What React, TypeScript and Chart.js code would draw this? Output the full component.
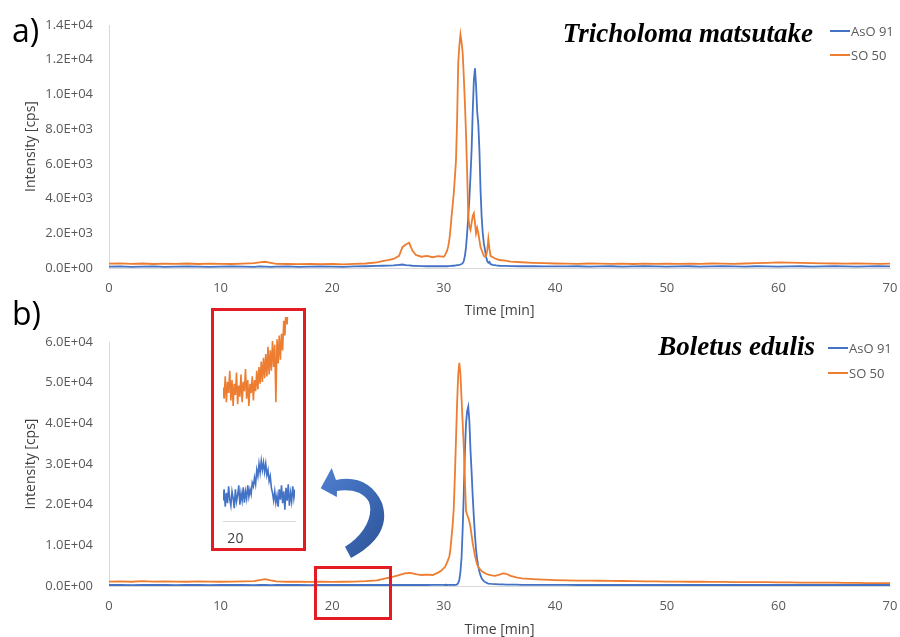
import React, { useEffect, useRef } from "react";
import { Chart, registerables } from "chart.js";

Chart.register(...registerables);

const FONT = "'Open Sans', sans-serif";
const BLUE = "#4472C4";
const ORANGE = "#ED7D31";

const seriesNames = ["AsO 91", "SO 50"];
const xTicks = [0, 10, 20, 30, 40, 50, 60, 70];
const yTicksTop = [0, 2000, 4000, 6000, 8000, 10000, 12000, 14000];
const yTicksBottom = [0, 10000, 20000, 30000, 40000, 50000, 60000];
const insetXTicks = [20];

// ---- a) Tricholoma matsutake ----
const timeTop = [
  0, 1, 2, 3, 4, 5, 6, 7, 8, 9, 10, 11, 12, 13, 13.5, 14, 14.5, 15, 16, 17, 18, 19, 20, 21, 22, 23, 24,
  24.5, 25, 25.5, 26, 26.3, 26.6, 26.9, 27.2, 27.5, 28, 28.5, 29, 29.5,
  30, 30.1, 30.2, 30.3, 30.4, 30.5, 30.6, 30.7, 30.8, 30.9, 31, 31.1, 31.2, 31.3, 31.4, 31.5, 31.6, 31.7, 31.8, 31.9, 32,
  32.1, 32.2, 32.3, 32.4, 32.5, 32.6, 32.7, 32.8, 32.9, 33, 33.1, 33.2, 33.3, 33.4, 33.5, 33.6, 33.7, 33.8, 33.9, 34, 34.1, 34.2,
  34.4, 34.7, 35, 35.5, 36, 37, 38, 39, 40,
  41, 42, 43, 44, 45, 46, 47, 48, 49, 50, 51, 52, 53, 54, 55, 56, 57, 58, 59, 60, 61, 62, 63, 64, 65, 66, 67, 68, 69, 70,
];
const asoTop = [
  80, 90, 70, 80, 90, 70, 80, 90, 80, 70, 80, 90, 80, 70, 90, 80, 70, 80, 90, 70, 80, 90, 80, 70, 90, 100, 120,
  130, 140, 150, 180, 200, 170, 150, 130, 120, 110, 100, 100, 110,
  100, 100, 110, 100, 110, 110, 120, 120, 130, 130, 140, 150, 160, 170, 180, 200, 230, 280, 400, 700, 1200,
  2000, 2950, 4000, 5300, 6800, 9000, 10800, 11500, 10500, 9000, 8300, 6800, 4500, 2950, 2000, 1400, 1040, 650, 400, 300, 350, 220,
  180, 150, 130, 120, 110, 100, 100, 90, 90,
  90, 100, 80, 90, 100, 80, 90, 100, 90, 80, 90, 100, 80, 90, 100, 90, 80, 100, 90, 80, 90, 100, 80, 90, 100, 90, 80, 90, 100, 90,
];
const soTop = [
  250, 270, 240, 260, 230, 250, 240, 260, 230, 250, 240, 230, 250, 280, 330, 360, 300, 240, 230, 220, 240, 220, 230, 210, 240, 260, 320,
  400, 450, 520, 700, 1200, 1350, 1450, 1000, 750, 650, 700, 620, 680,
  650, 720, 850, 1000, 1230, 1600, 2200, 2950, 3600, 4300, 5200, 6200, 8500, 11800, 12800, 13450, 13000, 12400, 11000, 9500, 7700,
  5500, 3000, 2400, 2200, 2600, 3000, 3150, 2600, 2000, 2300, 2000, 1600, 1200, 1040, 850, 700, 650, 700, 1000, 1670, 1100, 700,
  620, 520, 460, 420, 370, 330, 300, 280, 260,
  250, 240, 260, 250, 240, 250, 230, 250, 240, 250, 240, 250, 240, 260, 250, 240, 260, 280, 300, 320, 310, 290, 280, 270, 260, 250, 260, 250, 240, 250,
];

// ---- b) Boletus edulis ----
const timeBottom = [
  0, 1, 2, 3, 4, 5, 6, 7, 8, 9, 10, 11, 12, 13, 13.5, 14, 14.5, 15, 16, 17, 18, 19, 20, 21, 22, 23, 24,
  24.5, 25, 25.5, 26, 26.5, 27, 27.5, 28, 28.5, 29, 29.5, 29.8,
  30, 30.1, 30.2, 30.3, 30.4, 30.5, 30.6, 30.7, 30.8, 30.9, 31, 31.1, 31.2, 31.3, 31.4, 31.5, 31.6, 31.7, 31.8, 31.9, 32,
  32.1, 32.2, 32.3, 32.4, 32.5, 32.6, 32.7, 32.8, 32.9, 33, 33.1, 33.2, 33.3, 33.4, 33.5, 33.6, 33.7, 33.8, 33.9, 34,
  34.3, 34.6, 35, 35.3, 35.6, 36, 36.5, 37, 38, 39, 40,
  41, 42, 43, 44, 45, 46, 47, 48, 49, 50, 51, 52, 53, 54, 55, 56, 57, 58, 59, 60, 61, 62, 63, 64, 65, 66, 67, 68, 69, 70,
];
const asoBottom = [
  250, 300, 200, 250, 300, 250, 200, 300, 250, 200, 250, 300, 250, 200, 300, 250, 200, 250, 300, 250, 200, 300, 250, 250, 300, 250, 300,
  250, 300, 250, 300, 250, 300, 250, 300, 250, 300, 300, 300,
  300, 250, 300, 250, 300, 300, 250, 300, 300, 250, 300, 300, 400, 700, 1500, 3500, 7000, 14000, 23000, 33000, 40000,
  43000, 44100, 40500, 33400, 28000, 22000, 17000, 12500, 8850, 6500, 4750, 3500, 2600, 1900, 1500, 1200, 1000, 850, 700, 600,
  500, 450, 400, 380, 360, 340, 320, 300, 300, 280, 280,
  300, 250, 300, 250, 300, 250, 300, 250, 300, 250, 250, 300, 250, 300, 250, 250, 300, 250, 300, 250, 250, 300, 250, 300, 250, 250, 300, 250, 300, 250,
];
const soBottom = [
  1100, 1150, 1050, 1200, 1100, 1150, 1100, 1050, 1150, 1100, 1050, 1100, 1150, 1200, 1450, 1700, 1400, 1150, 1050, 1100, 1000, 1050, 1000, 1050, 1100, 1200, 1400,
  1700, 2000, 2300, 2700, 3100, 3200, 2900, 2700, 2800, 2700, 3300, 3800,
  4400, 4600, 5200, 5800, 6500, 7200, 9000, 12000, 15000, 19000, 27000, 36000, 45000, 52000, 54900, 52000, 46000, 40000, 34000, 26000, 18500,
  17500, 16800, 15800, 14500, 12500, 10500, 9000, 7500, 6300, 5300, 4700, 4300, 4000, 3700, 3500, 3300, 3200, 3000, 2900, 2800,
  2600, 2500, 2800, 3100, 3000, 2500, 2100, 1900, 1700, 1550, 1450,
  1380, 1340, 1330, 1290, 1280, 1230, 1210, 1160, 1140, 1100, 1090, 1050, 1050, 1010, 1010, 970, 970, 930, 930, 890, 890, 850, 850, 810, 810, 770, 770, 730, 730, 700,
];

// ---- inset (zoom of 19-25 min, panel b) ----
const timeInset = [
  18.9, 19, 19.1, 19.2, 19.3, 19.4, 19.5, 19.6, 19.7, 19.8, 19.9, 20, 20.1, 20.2, 20.3, 20.4, 20.5, 20.6, 20.7, 20.8, 20.9, 21, 21.1, 21.2, 21.3, 21.4, 21.5, 21.6,
  21.7, 21.8, 21.9, 22, 22.1, 22.2, 22.3, 22.4, 22.5, 22.6, 22.7, 22.8, 22.9, 23, 23.1, 23.2, 23.3, 23.4, 23.5, 23.6, 23.7, 23.8, 23.9, 24, 24.1,
  24.2, 24.3, 24.4, 24.5, 24.6, 24.7, 24.8, 24.9, 25, 25.1, 25.2, 25.3,
];
const asoInset = [
  240, 262, 228, 255, 235, 268, 242, 230, 258, 245, 225, 262, 238, 250, 270, 232, 255, 240, 266, 236, 258, 244, 270, 248, 262, 252, 275,
  268, 285, 272, 300, 288, 312, 295, 318, 300, 315, 296, 312, 290, 300, 278, 288, 265,
  255, 240, 258, 236, 250, 228, 262, 242, 270, 235, 258, 222, 265, 240, 272, 230, 255, 238, 268, 245, 262,
];
const soInset = [
  1020, 960, 1080, 940, 1050, 990, 1110, 950, 1060, 920, 1040, 980, 1100, 930, 1030, 970, 1090, 940, 1050, 1000, 1120, 960, 1060, 920, 1040, 990, 1080, 950,
  1060, 1000, 1110, 1010, 1130, 1040, 1160, 1050, 1180, 1070, 1200, 1080, 1240, 1090, 1220, 1110, 1270, 1130, 1250, 940, 1280, 1150, 1300, 1170, 1310,
  1220, 1380, 1300, 1450, 1360, 1500, 1420, 1550, 1480, 1600, 1520, 1650,
];

function sci(v: number): string {
  if (v === 0) return "0.0E+00";
  const [m, e] = v.toExponential(1).split("e");
  const n = parseInt(e, 10);
  return m + "E" + (n < 0 ? "-" : "+") + String(Math.abs(n)).padStart(2, "0");
}

function pts(t: number[], v: number[]) {
  return t.map((x, i) => ({ x, y: v[i] }));
}

type Annot = {
  letter: string;
  letterY: number;
  title: string;
  titleX: number;
  titleY: number;
  legendX: number;
  legendY: number[];
};

function annotPlugin(a: Annot) {
  return {
    id: "annot",
    afterDraw(chart: any) {
      const ctx = chart.ctx;
      ctx.save();
      ctx.fillStyle = "#000";
      ctx.textBaseline = "alphabetic";
      ctx.textAlign = "left";
      ctx.font = `32px ${FONT}`;
      ctx.fillText(a.letter, 12, a.letterY);
      ctx.font = `italic bold 27px 'Liberation Serif', serif`;
      ctx.textAlign = "right";
      ctx.fillText(a.title, a.titleX, a.titleY);
      chart.data.datasets.forEach((ds: any, i: number) => {
        const y = a.legendY[i];
        ctx.strokeStyle = ds.borderColor;
        ctx.lineWidth = 2;
        ctx.beginPath();
        ctx.moveTo(a.legendX, y);
        ctx.lineTo(a.legendX + 20, y);
        ctx.stroke();
        ctx.fillStyle = "#595959";
        ctx.font = `13px ${FONT}`;
        ctx.textAlign = "left";
        ctx.textBaseline = "middle";
        ctx.fillText(ds.label, a.legendX + 21, y + 1);
      });
      ctx.restore();
    },
  };
}

function mainConfig(o: {
  t: number[];
  blue: number[];
  orange: number[];
  yTicks: number[];
  plotTop: number;
  plotBottom: number;
  canvasH: number;
  titlePad: number;
  annot: Annot;
}): any {
  const yMax = o.yTicks[o.yTicks.length - 1];
  return {
    type: "line",
    data: {
      datasets: [
        { label: seriesNames[0], data: pts(o.t, o.blue), borderColor: BLUE, backgroundColor: BLUE, borderWidth: 1.8, pointRadius: 0, order: 1 },
        { label: seriesNames[1], data: pts(o.t, o.orange), borderColor: ORANGE, backgroundColor: ORANGE, borderWidth: 1.8, pointRadius: 0, order: 0 },
      ],
    },
    options: {
      responsive: false,
      animation: false,
      layout: { padding: { left: 0, right: 10, top: o.plotTop, bottom: 0 } },
      plugins: { legend: { display: false }, tooltip: { enabled: false } },
      scales: {
        x: {
          type: "linear",
          min: 0,
          max: 70,
          afterBuildTicks: (s: any) => {
            s.ticks = xTicks.map((v) => ({ value: v }));
          },
          afterFit: (s: any) => {
            s.height = o.canvasH - o.plotBottom;
            s.paddingLeft = 0;
            s.paddingRight = 0;
          },
          grid: { display: false, drawTicks: false },
          border: { display: true, color: "#d9d9d9", width: 1 },
          ticks: { padding: 12, color: "#595959", font: { family: FONT, size: 13 }, maxRotation: 0, autoSkip: false },
          title: { display: true, text: "Time [min]", color: "#404040", font: { family: FONT, size: 14 }, padding: { top: 0, bottom: o.titlePad } },
        },
        y: {
          type: "linear",
          min: 0,
          max: yMax,
          afterBuildTicks: (s: any) => {
            s.ticks = o.yTicks.map((v) => ({ value: v }));
          },
          afterFit: (s: any) => {
            s.width = 109;
          },
          grid: { display: false, drawTicks: false },
          border: { display: true, color: "#d9d9d9", width: 1 },
          ticks: { padding: 16, color: "#595959", font: { family: FONT, size: 13 }, callback: (v: any) => sci(Number(v)) },
          title: { display: true, text: "Intensity [cps]", color: "#404040", font: { family: FONT, size: 14 }, padding: { top: 23, bottom: 0 } },
        },
      },
    },
    plugins: [annotPlugin(o.annot)],
  };
}

function insetConfig(): any {
  return {
    type: "line",
    data: {
      datasets: [
        { label: seriesNames[0], data: pts(timeInset, asoInset), borderColor: BLUE, borderWidth: 1.6, pointRadius: 0, yAxisID: "yB", order: 1 },
        { label: seriesNames[1], data: pts(timeInset, soInset), borderColor: ORANGE, borderWidth: 1.6, pointRadius: 0, yAxisID: "yO", order: 0 },
      ],
    },
    options: {
      responsive: false,
      animation: false,
      layout: { padding: { left: 12, right: 11, top: 9, bottom: 0 } },
      plugins: { legend: { display: false }, tooltip: { enabled: false } },
      scales: {
        x: {
          type: "linear",
          min: 18.9,
          max: 25.3,
          afterBuildTicks: (s: any) => {
            s.ticks = insetXTicks.map((v) => ({ value: v }));
          },
          afterFit: (s: any) => {
            s.height = 30;
            s.paddingLeft = 0;
            s.paddingRight = 0;
          },
          grid: { display: false, drawTicks: false },
          border: { display: true, color: "#d9d9d9", width: 1 },
          ticks: { padding: 10, color: "#404040", font: { family: FONT, size: 14 }, maxRotation: 0, autoSkip: false },
        },
        yO: { type: "linear", axis: "y", display: false, min: 300, max: 1400 },
        yB: { type: "linear", axis: "y", display: false, min: 200, max: 600 },
      },
    },
  };
}

export default function App() {
  const topRef = useRef<HTMLCanvasElement>(null);
  const botRef = useRef<HTMLCanvasElement>(null);
  const insRef = useRef<HTMLCanvasElement>(null);

  useEffect(() => {
    const charts: Chart[] = [];
    if (topRef.current) {
      charts.push(
        new Chart(
          topRef.current,
          mainConfig({
            t: timeTop,
            blue: asoTop,
            orange: soTop,
            yTicks: yTicksTop,
            plotTop: 25,
            plotBottom: 268,
            canvasH: 320,
            titlePad: 1,
            annot: { letter: "a)", letterY: 42, title: "Tricholoma matsutake", titleX: 813, titleY: 42, legendX: 830, legendY: [31, 55] },
          })
        )
      );
    }
    if (botRef.current) {
      charts.push(
        new Chart(
          botRef.current,
          mainConfig({
            t: timeBottom,
            blue: asoBottom,
            orange: soBottom,
            yTicks: yTicksBottom,
            plotTop: 46,
            plotBottom: 290,
            canvasH: 341,
            titlePad: -1,
            annot: { letter: "b)", letterY: 29, title: "Boletus edulis", titleX: 815, titleY: 59, legendX: 828, legendY: [52, 77] },
          })
        )
      );
    }
    if (insRef.current) {
      charts.push(new Chart(insRef.current, insetConfig()));
    }
    return () => {
      charts.forEach((c) => c.destroy());
    };
  }, []);

  return (
    <div style={{ position: "absolute", left: 0, top: 0, width: 900, height: 637, background: "#fff", overflow: "hidden" }}>
      <canvas ref={topRef} width={900} height={320} style={{ position: "absolute", left: 0, top: 0 }} />
      <canvas ref={botRef} width={900} height={341} style={{ position: "absolute", left: 0, top: 296 }} />
      <div style={{ position: "absolute", left: 211, top: 308, width: 95, height: 243, background: "#fff" }}>
        <canvas ref={insRef} width={95} height={243} style={{ position: "absolute", left: 0, top: 0 }} />
      </div>
      <div style={{ position: "absolute", left: 211, top: 308, width: 95, height: 243, boxSizing: "border-box", border: "3px solid #E31B23", pointerEvents: "none" }} />
      <div style={{ position: "absolute", left: 314, top: 566, width: 78, height: 54, boxSizing: "border-box", border: "3px solid #E31B23", pointerEvents: "none" }} />
      <svg width={900} height={637} style={{ position: "absolute", left: 0, top: 0, pointerEvents: "none" }}>
        <defs>
          <linearGradient id="arrowGrad" x1="0" y1="0" x2="1" y2="1">
            <stop offset="0" stopColor="#4F7FD0" />
            <stop offset="0.55" stopColor="#3C68B4" />
            <stop offset="1" stopColor="#2C5294" />
          </linearGradient>
        </defs>
        <path
          d="M 320.7 488.3 L 331.7 468 L 336 480 C 356 475, 374 484, 382 503 C 388 521, 383 541, 351 558 L 345 546.7 C 364 535, 374 516, 369 502 C 363 491, 349 489, 337 491 L 336.8 497 Z"
          fill="url(#arrowGrad)"
        />
      </svg>
    </div>
  );
}
